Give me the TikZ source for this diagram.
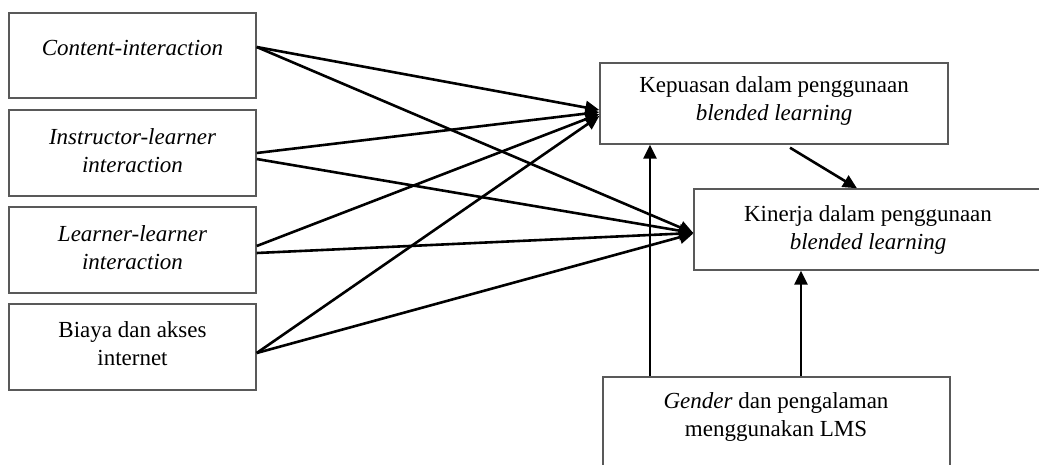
\documentclass[tikz,border=0pt]{standalone}
\usepackage{fontspec}
\setmainfont{Liberation Serif}
\usetikzlibrary{arrows.meta}
\begin{document}
\begin{tikzpicture}[x=1pt,y=-1pt,
  box/.style={draw=black!65,line width=1.4pt,fill=white,inner sep=0pt},
  txt/.style={inner sep=0pt,align=center,font=\fontsize{23}{28}\selectfont},
  arr/.style={line width=2.6pt,-{Triangle[length=14pt,width=13pt]}}]
\clip (0,0) rectangle (1039,464);
\useasboundingbox (0,0) rectangle (1039,464);
% boxes
\node[box,minimum width=247pt,minimum height=85pt] (L1) at (132.5,55.5) {};
\node[box,minimum width=247pt,minimum height=86pt] (L2) at (132.5,153) {};
\node[box,minimum width=247pt,minimum height=86pt] (L3) at (132.5,250) {};
\node[box,minimum width=247pt,minimum height=86pt] (L4) at (132.5,347) {};
\node[box,minimum width=348pt,minimum height=81pt] (K) at (774,103.5) {};
\node[box,minimum width=360pt,minimum height=81pt] (P) at (874,229.5) {};
\node[box,minimum width=347pt,minimum height=95pt] (G) at (776.5,424.5) {};
% texts
\node[txt] (t1) at (132.5,48) {\itshape Content-interaction};
\node[txt] (t2) at (132.5,150.5) {\itshape Instructor-learner\\\itshape interaction};
\node[txt] (t3) at (132.5,247.5) {\itshape Learner-learner\\\itshape interaction};
\node[txt] (t4) at (132.5,344) {Biaya dan akses\\internet};
\node[txt] (tk) at (774,101) {Kepuasan dalam penggunaan\\\itshape blended learning};
\node[txt] (tp) at (868,229.5) {Kinerja dalam penggunaan\\\itshape blended learning};
\node[txt] (tg) at (776,417) {\textit{Gender} dan pengalaman\\menggunakan LMS};
% arrows from left boxes
\draw[arr] ([yshift=8.5pt]L1.east) -- ([yshift=-6.5pt]K.west);
\draw[arr] ([yshift=8.5pt]L1.east) -- ([yshift=-3.5pt]P.west);
\draw[arr] (L2.east) -- ([yshift=-8.5pt]K.west);
\draw[arr] ([yshift=-6pt]L2.east) -- ([yshift=-3.5pt]P.west);
\draw[arr] ([yshift=4pt]L3.east) -- ([yshift=-10.5pt]K.west);
\draw[arr] ([yshift=-3pt]L3.east) -- ([yshift=-3.5pt]P.west);
\draw[arr] ([yshift=-6pt]L4.east) -- ([yshift=-12.5pt]K.west);
\draw[arr] ([yshift=-6pt]L4.east) -- ([yshift=-4pt]P.west);
% other arrows
\draw[arr] ([xshift=-126.5pt]G.north) -- ([xshift=-126.5pt]G.north |- K.south);
\draw[arr] ([xshift=24.5pt]G.north) -- ([xshift=24.5pt]G.north |- P.south);
\draw[arr] ([xshift=16pt,yshift=-3pt]K.south) -- ([xshift=-17pt]P.north);
\end{tikzpicture}
\end{document}
